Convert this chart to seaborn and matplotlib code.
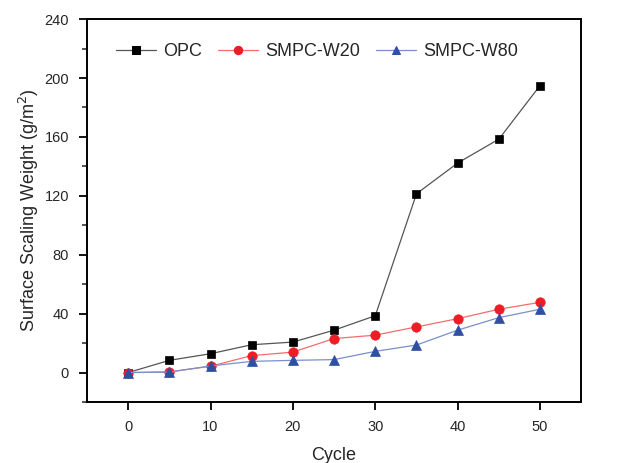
import numpy as np
import pandas as pd
import matplotlib
matplotlib.use("Agg")
import matplotlib.pyplot as plt
from matplotlib.ticker import MultipleLocator
import seaborn as sns

cycles = [0, 5, 10, 15, 20, 25, 30, 35, 40, 45, 50]
opc = [0, 8.3, 12.8, 18.9, 20.7, 28.8, 38.6, 121.4, 142.3, 158.5, 194.9]
smpc_w20 = [0, 0.5, 4.3, 11.5, 13.9, 23.1, 25.4, 31.0, 36.6, 43.0, 47.7]
smpc_w80 = [0, 0.3, 4.5, 7.6, 8.3, 8.8, 14.4, 18.7, 28.8, 37.3, 43.0]
series_names = ["OPC", "SMPC-W20", "SMPC-W80"]

sns.set_style("ticks")
plt.rcParams['font.family'] = ['Liberation Sans', 'DejaVu Sans']

df = pd.DataFrame({
    'cycle': cycles * 3,
    'weight': opc + smpc_w20 + smpc_w80,
    'series': sum([[n] * len(cycles) for n in series_names], []),
})

marker_colors = {"OPC": "#000000", "SMPC-W20": "#ee1c25", "SMPC-W80": "#2f50a2"}
line_colors = {"OPC": "#555555", "SMPC-W20": "#f26d6d", "SMPC-W80": "#7a8fcc"}
markers = {"OPC": "s", "SMPC-W20": "o", "SMPC-W80": "^"}
msizes = {"OPC": 5.8, "SMPC-W20": 6.8, "SMPC-W80": 7.2}

fig = plt.figure(figsize=(6.21, 4.63), dpi=100)
ax = fig.add_axes([0.140, 0.1317, 0.796, 0.827])

sns.lineplot(data=df, x='cycle', y='weight', hue='series', style='series',
             hue_order=series_names, style_order=series_names,
             palette=marker_colors, markers=markers, dashes=False,
             linewidth=0.9, ax=ax)

for line, name in zip(ax.get_lines(), series_names):
    line.set_color(line_colors[name])
    line.set_markerfacecolor(marker_colors[name])
    line.set_markeredgecolor(marker_colors[name])
    line.set_markeredgewidth(0.5)
    line.set_markersize(msizes[name])

ax.set_xlim(-5, 55)
ax.set_ylim(-20, 240)
ax.xaxis.set_major_locator(MultipleLocator(10))
ax.yaxis.set_major_locator(MultipleLocator(40))
ax.yaxis.set_minor_locator(MultipleLocator(20))
ax.tick_params(axis='both', which='major', direction='out', length=6, width=1.3,
               labelsize=10.5, color='black', pad=7)
ax.tick_params(axis='y', which='minor', direction='out', length=3.5, width=1.1)
for s in ax.spines.values():
    s.set_linewidth(1.4)
    s.set_color('black')

ax.set_xlabel('Cycle', fontsize=13, labelpad=9)
ax.set_ylabel('Surface Scaling Weight (g/m$^2$)', fontsize=13, labelpad=2)

handles, labels = ax.get_legend_handles_labels()
for h, name in zip(handles, labels):
    h.set_color(line_colors[name])
    h.set_markerfacecolor(marker_colors[name])
    h.set_markeredgecolor(marker_colors[name])
    h.set_markersize(6)
ax.legend(handles, labels, loc='upper center', bbox_to_anchor=(0.465, 0.98), ncol=3,
          frameon=False, fontsize=13, handlelength=2.2, columnspacing=0.9, handletextpad=0.4)

fig.savefig('out.png', dpi=100)
